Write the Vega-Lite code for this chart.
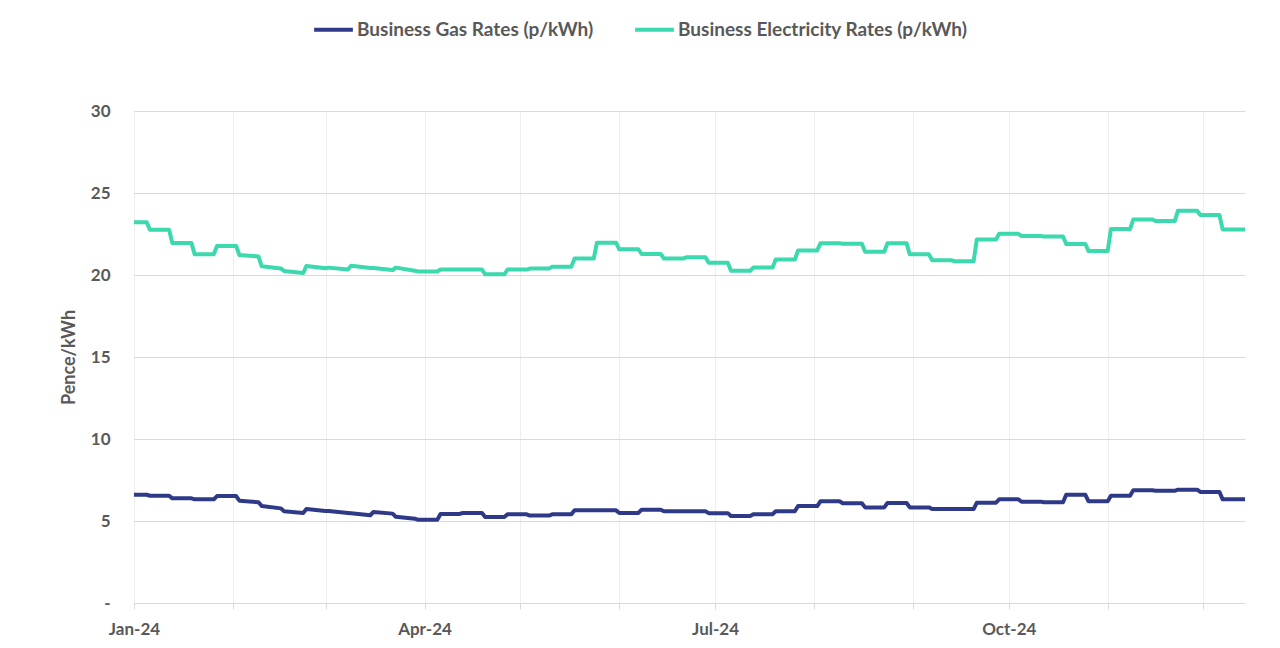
{
  "$schema": "https://vega.github.io/schema/vega-lite/v6.json",
  "width": 1111,
  "height": 492,
  "autosize": {"type": "none"},
  "padding": {"left": 134, "top": 111, "right": 35, "bottom": 45},
  "background": "white",
  "config": {
    "view": {"stroke": null},
    "font": "Lato",
    "axis": {"labelFont": "Lato", "titleFont": "Lato", "labelColor": "#595959", "titleColor": "#595959", "labelFontWeight": "bold", "titleFontWeight": "bold"}
  },
  "data": {
    "values": [
      {"date": "2024-01-01T00:00", "gas": 6.6, "elec": 23.21},
      {"date": "2024-01-05T00:00", "gas": 6.6, "elec": 23.21},
      {"date": "2024-01-06T00:00", "gas": 6.54, "elec": 22.76},
      {"date": "2024-01-12T00:00", "gas": 6.54, "elec": 22.76},
      {"date": "2024-01-13T00:00", "gas": 6.38, "elec": 21.95},
      {"date": "2024-01-19T00:00", "gas": 6.38, "elec": 21.95},
      {"date": "2024-01-20T00:00", "gas": 6.32, "elec": 21.26},
      {"date": "2024-01-26T00:00", "gas": 6.32, "elec": 21.26},
      {"date": "2024-01-27T00:00", "gas": 6.52, "elec": 21.77},
      {"date": "2024-02-02T00:00", "gas": 6.52, "elec": 21.77},
      {"date": "2024-02-03T00:00", "gas": 6.24, "elec": 21.22},
      {"date": "2024-02-09T00:00", "gas": 6.14, "elec": 21.13},
      {"date": "2024-02-10T00:00", "gas": 5.91, "elec": 20.53},
      {"date": "2024-02-16T00:00", "gas": 5.77, "elec": 20.4},
      {"date": "2024-02-17T00:00", "gas": 5.59, "elec": 20.25},
      {"date": "2024-02-23T00:00", "gas": 5.49, "elec": 20.12},
      {"date": "2024-02-24T00:00", "gas": 5.73, "elec": 20.55},
      {"date": "2024-03-01T00:00", "gas": 5.61, "elec": 20.41},
      {"date": "2024-03-02T00:00", "gas": 5.61, "elec": 20.45},
      {"date": "2024-03-08T00:00", "gas": 5.49, "elec": 20.33},
      {"date": "2024-03-09T00:00", "gas": 5.47, "elec": 20.57},
      {"date": "2024-03-15T00:00", "gas": 5.35, "elec": 20.43},
      {"date": "2024-03-16T00:00", "gas": 5.55, "elec": 20.43},
      {"date": "2024-03-22T00:00", "gas": 5.45, "elec": 20.3},
      {"date": "2024-03-23T00:00", "gas": 5.26, "elec": 20.45},
      {"date": "2024-03-29T00:00", "gas": 5.14, "elec": 20.26},
      {"date": "2024-03-30T00:00", "gas": 5.07, "elec": 20.22},
      {"date": "2024-04-05T00:00", "gas": 5.07, "elec": 20.22},
      {"date": "2024-04-06T00:00", "gas": 5.43, "elec": 20.33},
      {"date": "2024-04-12T00:00", "gas": 5.43, "elec": 20.33},
      {"date": "2024-04-13T00:00", "gas": 5.49, "elec": 20.33},
      {"date": "2024-04-19T00:00", "gas": 5.49, "elec": 20.33},
      {"date": "2024-04-20T00:00", "gas": 5.24, "elec": 20.04},
      {"date": "2024-04-26T00:00", "gas": 5.24, "elec": 20.04},
      {"date": "2024-04-27T00:00", "gas": 5.41, "elec": 20.33},
      {"date": "2024-05-03T00:00", "gas": 5.41, "elec": 20.33},
      {"date": "2024-05-04T00:00", "gas": 5.33, "elec": 20.39},
      {"date": "2024-05-10T00:00", "gas": 5.33, "elec": 20.39},
      {"date": "2024-05-11T00:00", "gas": 5.41, "elec": 20.51},
      {"date": "2024-05-17T00:00", "gas": 5.41, "elec": 20.51},
      {"date": "2024-05-18T00:00", "gas": 5.65, "elec": 21.0},
      {"date": "2024-05-24T00:00", "gas": 5.65, "elec": 21.0},
      {"date": "2024-05-25T00:00", "gas": 5.65, "elec": 21.97},
      {"date": "2024-05-31T00:00", "gas": 5.65, "elec": 21.97},
      {"date": "2024-06-01T00:00", "gas": 5.49, "elec": 21.57},
      {"date": "2024-06-07T00:00", "gas": 5.49, "elec": 21.57},
      {"date": "2024-06-08T00:00", "gas": 5.69, "elec": 21.28},
      {"date": "2024-06-14T00:00", "gas": 5.69, "elec": 21.28},
      {"date": "2024-06-15T00:00", "gas": 5.59, "elec": 21.0},
      {"date": "2024-06-21T00:00", "gas": 5.59, "elec": 21.0},
      {"date": "2024-06-22T00:00", "gas": 5.59, "elec": 21.08},
      {"date": "2024-06-28T00:00", "gas": 5.59, "elec": 21.08},
      {"date": "2024-06-29T00:00", "gas": 5.48, "elec": 20.74},
      {"date": "2024-07-05T00:00", "gas": 5.48, "elec": 20.74},
      {"date": "2024-07-06T00:00", "gas": 5.3, "elec": 20.26},
      {"date": "2024-07-12T00:00", "gas": 5.3, "elec": 20.26},
      {"date": "2024-07-13T00:00", "gas": 5.41, "elec": 20.45},
      {"date": "2024-07-19T00:00", "gas": 5.41, "elec": 20.45},
      {"date": "2024-07-20T00:00", "gas": 5.59, "elec": 20.94},
      {"date": "2024-07-26T00:00", "gas": 5.59, "elec": 20.94},
      {"date": "2024-07-27T00:00", "gas": 5.91, "elec": 21.5},
      {"date": "2024-08-02T00:00", "gas": 5.91, "elec": 21.5},
      {"date": "2024-08-03T00:00", "gas": 6.2, "elec": 21.93},
      {"date": "2024-08-09T00:00", "gas": 6.2, "elec": 21.93},
      {"date": "2024-08-10T00:00", "gas": 6.08, "elec": 21.91},
      {"date": "2024-08-16T00:00", "gas": 6.08, "elec": 21.91},
      {"date": "2024-08-17T00:00", "gas": 5.83, "elec": 21.42},
      {"date": "2024-08-23T00:00", "gas": 5.83, "elec": 21.42},
      {"date": "2024-08-24T00:00", "gas": 6.1, "elec": 21.93},
      {"date": "2024-08-30T00:00", "gas": 6.1, "elec": 21.93},
      {"date": "2024-08-31T00:00", "gas": 5.83, "elec": 21.26},
      {"date": "2024-09-06T00:00", "gas": 5.83, "elec": 21.26},
      {"date": "2024-09-07T00:00", "gas": 5.73, "elec": 20.9},
      {"date": "2024-09-13T00:00", "gas": 5.73, "elec": 20.9},
      {"date": "2024-09-14T00:00", "gas": 5.73, "elec": 20.84},
      {"date": "2024-09-20T00:00", "gas": 5.73, "elec": 20.84},
      {"date": "2024-09-21T00:00", "gas": 6.12, "elec": 22.17},
      {"date": "2024-09-27T00:00", "gas": 6.12, "elec": 22.17},
      {"date": "2024-09-28T00:00", "gas": 6.32, "elec": 22.51},
      {"date": "2024-10-04T00:00", "gas": 6.32, "elec": 22.51},
      {"date": "2024-10-05T00:00", "gas": 6.18, "elec": 22.38},
      {"date": "2024-10-11T00:00", "gas": 6.18, "elec": 22.38},
      {"date": "2024-10-12T00:00", "gas": 6.14, "elec": 22.34},
      {"date": "2024-10-18T00:00", "gas": 6.14, "elec": 22.34},
      {"date": "2024-10-19T00:00", "gas": 6.6, "elec": 21.89},
      {"date": "2024-10-25T00:00", "gas": 6.6, "elec": 21.89},
      {"date": "2024-10-26T00:00", "gas": 6.2, "elec": 21.46},
      {"date": "2024-11-01T00:00", "gas": 6.2, "elec": 21.46},
      {"date": "2024-11-02T00:00", "gas": 6.54, "elec": 22.8},
      {"date": "2024-11-08T00:00", "gas": 6.54, "elec": 22.8},
      {"date": "2024-11-09T00:00", "gas": 6.87, "elec": 23.39},
      {"date": "2024-11-15T00:00", "gas": 6.87, "elec": 23.39},
      {"date": "2024-11-16T00:00", "gas": 6.84, "elec": 23.29},
      {"date": "2024-11-22T00:00", "gas": 6.84, "elec": 23.29},
      {"date": "2024-11-23T00:00", "gas": 6.91, "elec": 23.92},
      {"date": "2024-11-29T00:00", "gas": 6.91, "elec": 23.92},
      {"date": "2024-11-30T00:00", "gas": 6.77, "elec": 23.66},
      {"date": "2024-12-06T00:00", "gas": 6.77, "elec": 23.66},
      {"date": "2024-12-07T00:00", "gas": 6.32, "elec": 22.78},
      {"date": "2024-12-14T00:00", "gas": 6.32, "elec": 22.78}
    ]
  },
  "transform": [{"fold": ["gas", "elec"], "as": ["series", "value"]}],
  "mark": {"type": "line", "strokeWidth": 4, "strokeJoin": "round", "strokeCap": "butt"},
  "encoding": {
    "x": {
      "field": "date",
      "type": "temporal",
      "scale": {"domain": [{"year": 2024, "month": 1, "date": 1}, {"year": 2024, "month": 12, "date": 14}]},
      "axis": {
        "title": null,
        "values": [
          {"year": 2024, "month": 1, "date": 1}, {"year": 2024, "month": 2, "date": 1}, {"year": 2024, "month": 3, "date": 1},
          {"year": 2024, "month": 4, "date": 1}, {"year": 2024, "month": 5, "date": 1}, {"year": 2024, "month": 6, "date": 1},
          {"year": 2024, "month": 7, "date": 1}, {"year": 2024, "month": 8, "date": 1}, {"year": 2024, "month": 9, "date": 1},
          {"year": 2024, "month": 10, "date": 1}, {"year": 2024, "month": 11, "date": 1}, {"year": 2024, "month": 12, "date": 1}
        ],
        "labelExpr": "month(datum.value) % 3 == 0 ? timeFormat(datum.value, '%b-%y') : ''",
        "grid": true,
        "gridColor": "#efefef",
        "gridWidth": 1,
        "domain": true,
        "domainColor": "#d9d9d9",
        "ticks": true,
        "tickColor": "#d9d9d9",
        "tickSize": 6,
        "labelPadding": 12,
        "labelFontSize": 17,
        "labelAngle": 0,
        "labelFlush": false,
        "labelOverlap": false
      }
    },
    "y": {
      "field": "value",
      "type": "quantitative",
      "scale": {"domain": [0, 30], "nice": false},
      "axis": {
        "title": "Pence/kWh",
        "values": [0, 5, 10, 15, 20, 25, 30],
        "labelExpr": "datum.value == 0 ? '-' : datum.label",
        "grid": true,
        "gridColor": "#d9d9d9",
        "domain": false,
        "ticks": false,
        "labelPadding": 24,
        "labelFontSize": 17,
        "titleFontSize": 18,
        "titlePadding": 12
      }
    },
    "color": {
      "field": "series",
      "type": "nominal",
      "scale": {"domain": ["gas", "elec"], "range": ["#2e3a87", "#3cd8ae"]},
      "legend": {
        "title": null,
        "orient": "none",
        "direction": "horizontal",
        "legendX": 178,
        "legendY": -103,
        "labelExpr": "datum.label == 'gas' ? 'Business Gas Rates (p/kWh)' : 'Business Electricity Rates (p/kWh)'",
        "symbolType": "stroke",
        "symbolSize": 1500,
        "symbolStrokeWidth": 4,
        "labelOffset": 2,
        "labelFont": "Lato",
        "labelFontSize": 19,
        "labelFontWeight": "bold",
        "labelColor": "#595959",
        "columnPadding": 33,
        "labelLimit": 400
      }
    }
  }
}
